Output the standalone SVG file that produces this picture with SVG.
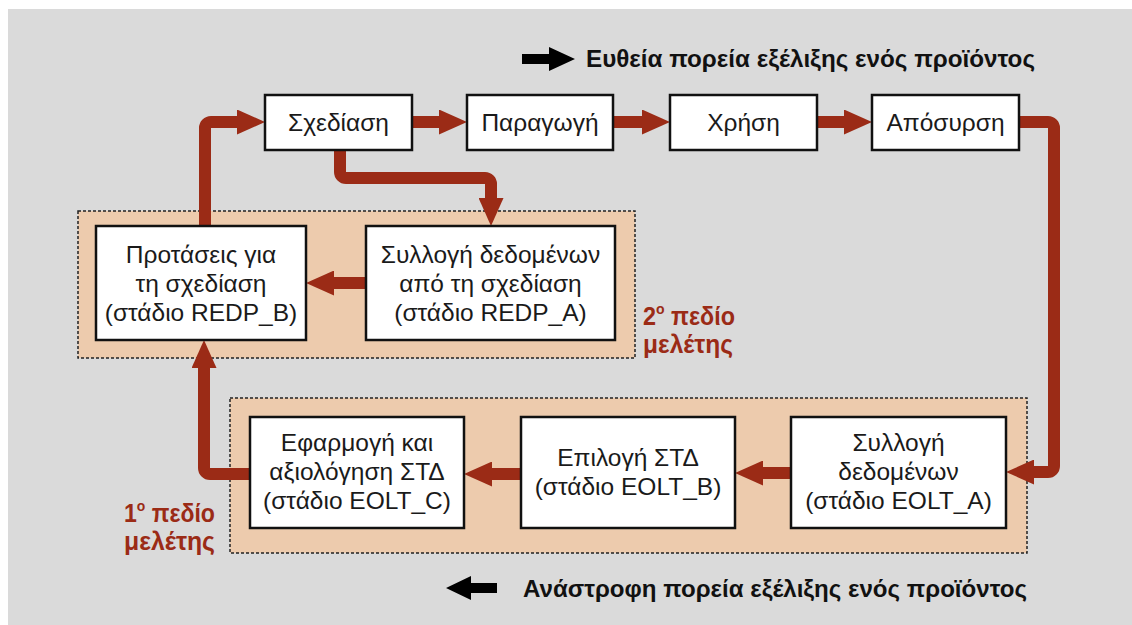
<svg xmlns="http://www.w3.org/2000/svg" width="1132" height="625" viewBox="0 0 1132 625">
  <defs>
    <marker id="head" markerUnits="userSpaceOnUse" markerWidth="28" markerHeight="25" refX="0" refY="12.5" orient="auto">
      <path d="M0,0 L28,12.5 L0,25 z" fill="#9b2b16"/>
    </marker>
    <style>
      .box { fill: #ffffff; stroke: #111111; stroke-width: 2.5; }
      .zone { fill: #edcbad; stroke: #222222; stroke-width: 1.5; stroke-dasharray: 3 2; }
      .flow { fill: none; stroke: #9b2b16; stroke-width: 12; marker-end: url(#head); }
      .lbl { font-family: "Liberation Sans", Arial, sans-serif; font-size: 24.5px; fill: #1a1a1a; text-anchor: middle; }
      .zlbl { font-family: "Liberation Sans", Arial, sans-serif; font-size: 25px; font-weight: bold; fill: #9b2b16; }
      .legend { font-family: "Liberation Sans", Arial, sans-serif; font-size: 24px; font-weight: bold; fill: #111111; }
    </style>
  </defs>

  <!-- canvas -->
  <rect x="8" y="9" width="1124" height="616" fill="#dadada"/>

  <!-- study zones -->
  <g id="zone-2">
    <rect class="zone" x="78" y="211" width="557" height="147"/>
    <text class="zlbl" x="643" y="325" textLength="92" lengthAdjust="spacingAndGlyphs">2<tspan dy="-11" font-size="15">o</tspan><tspan dy="11"> πεδίο</tspan></text>
    <text class="zlbl" x="643" y="353" textLength="90" lengthAdjust="spacingAndGlyphs">μελέτης</text>
  </g>
  <g id="zone-1">
    <rect class="zone" x="230" y="398" width="797" height="155"/>
    <text class="zlbl" x="124" y="522" textLength="91" lengthAdjust="spacingAndGlyphs">1<tspan dy="-11" font-size="15">o</tspan><tspan dy="11"> πεδίο</tspan></text>
    <text class="zlbl" x="124" y="550" textLength="91" lengthAdjust="spacingAndGlyphs">μελέτης</text>
  </g>

  <!-- connectors -->
  <g id="connectors">
    <path class="flow" d="M205,226 V128 A6,6 0 0 1 211,122 H237"/>
    <path class="flow" d="M412,122 H439"/>
    <path class="flow" d="M613,122 H642"/>
    <path class="flow" d="M817,122 H844"/>
    <path class="flow" d="M1019,122 H1048 A6,6 0 0 1 1054,128 V466 A6,6 0 0 1 1048,472 H1034"/>
    <path class="flow" d="M791,473 H763"/>
    <path class="flow" d="M521,474 H492"/>
    <path class="flow" d="M250,474 H210 A6,6 0 0 1 204,468 V368"/>
    <path class="flow" d="M340,150 V172 A6,6 0 0 0 346,178 H485 A6,6 0 0 1 491,184 V198"/>
    <path class="flow" d="M366,283 H334"/>
  </g>

  <!-- forward chain -->
  <g id="design">
    <rect class="box" x="265" y="95" width="147" height="55"/>
    <text class="lbl" x="338.5" y="131">Σχεδίαση</text>
  </g>
  <g id="production">
    <rect class="box" x="467" y="95" width="146" height="55"/>
    <text class="lbl" x="540" y="131">Παραγωγή</text>
  </g>
  <g id="use">
    <rect class="box" x="670" y="95" width="147" height="55"/>
    <text class="lbl" x="743.5" y="131">Χρήση</text>
  </g>
  <g id="withdrawal">
    <rect class="box" x="872" y="95" width="147" height="55"/>
    <text class="lbl" x="945.5" y="131">Απόσυρση</text>
  </g>

  <!-- zone 2 stages -->
  <g id="redp-b">
    <rect class="box" x="96" y="226" width="210" height="114"/>
    <text class="lbl" x="201" y="263">Προτάσεις για</text>
    <text class="lbl" x="201" y="292">τη σχεδίαση</text>
    <text class="lbl" x="201" y="321">(στάδιο REDP_B)</text>
  </g>
  <g id="redp-a">
    <rect class="box" x="366" y="226" width="249" height="114"/>
    <text class="lbl" x="490.5" y="263">Συλλογή δεδομένων</text>
    <text class="lbl" x="490.5" y="292">από τη σχεδίαση</text>
    <text class="lbl" x="490.5" y="321">(στάδιο REDP_A)</text>
  </g>

  <!-- zone 1 stages -->
  <g id="eolt-c">
    <rect class="box" x="250" y="417" width="214" height="111"/>
    <text class="lbl" x="357" y="451">Εφαρμογή και</text>
    <text class="lbl" x="357" y="480">αξιολόγηση ΣΤΔ</text>
    <text class="lbl" x="357" y="509">(στάδιο EOLT_C)</text>
  </g>
  <g id="eolt-b">
    <rect class="box" x="521" y="417" width="214" height="111"/>
    <text class="lbl" x="628" y="466">Επιλογή ΣΤΔ</text>
    <text class="lbl" x="628" y="495">(στάδιο EOLT_B)</text>
  </g>
  <g id="eolt-a">
    <rect class="box" x="791" y="417" width="215" height="111"/>
    <text class="lbl" x="898.5" y="451">Συλλογή</text>
    <text class="lbl" x="898.5" y="480">δεδομένων</text>
    <text class="lbl" x="898.5" y="509">(στάδιο EOLT_A)</text>
  </g>

  <!-- legend -->
  <g id="legend-forward">
    <path d="M522,54 H549 V47 L575,59 L549,71 V64 H522 z" fill="#000000"/>
    <text class="legend" x="586" y="67" textLength="449" lengthAdjust="spacingAndGlyphs">Ευθεία πορεία εξέλιξης ενός προϊόντος</text>
  </g>
  <g id="legend-reverse">
    <path d="M497,583 H471 V576 L446,588 L471,600 V593 H497 z" fill="#000000"/>
    <text class="legend" x="523" y="597" textLength="504" lengthAdjust="spacingAndGlyphs">Ανάστροφη πορεία εξέλιξης ενός προϊόντος</text>
  </g>
</svg>
